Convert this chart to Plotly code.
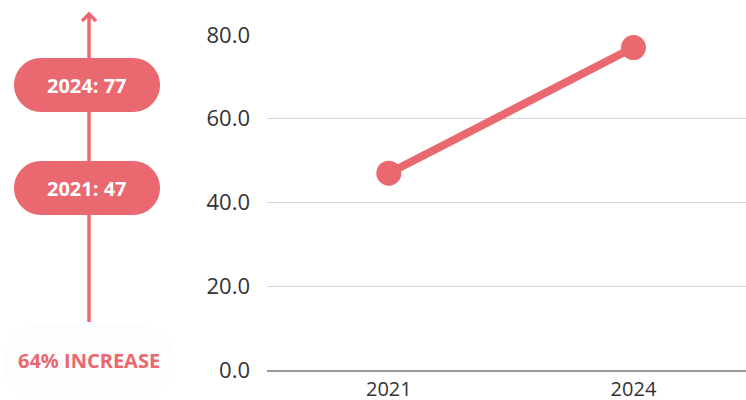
import plotly.graph_objects as go

years = ["2021", "2024"]
values = [47, 77]
y_ticks = [0, 20, 40, 60, 80]
increase_label = "64% INCREASE"

RED = "#EA6870"
W, H = 746, 400
FONT = "Open Sans"


def px(x):
    return x / W


def py(y):
    return 1 - y / H


def pill(cx, cy, w, h):
    # rounded-end box, built in pixels then mapped to paper coords
    r = h / 2
    x0, x1 = cx - w / 2 + r, cx + w / 2 - r
    y0, y1 = cy - r, cy + r
    k = 0.5523 * r
    pts = [
        ("M", [(x0, y0)]), ("L", [(x1, y0)]),
        ("C", [(x1 + k, y0), (x1 + r, cy - k), (x1 + r, cy)]),
        ("C", [(x1 + r, cy + k), (x1 + k, y1), (x1, y1)]),
        ("L", [(x0, y1)]),
        ("C", [(x0 - k, y1), (x0 - r, cy + k), (x0 - r, cy)]),
        ("C", [(x0 - r, cy - k), (x0 - k, y0), (x0, y0)]),
    ]
    out = []
    for cmd, ps in pts:
        out.append(cmd + " ".join(f"{px(a):.5f},{py(b):.5f}" for a, b in ps))
    return " ".join(out) + " Z"


fig = go.Figure()

fig.add_trace(go.Scatter(
    x=years, y=values,
    mode="lines+markers",
    line=dict(color=RED, width=8),
    marker=dict(color=RED, size=25),
    cliponaxis=False,
    showlegend=False,
))

shapes = []
ax = 89
shapes.append(dict(type="path", xref="paper", yref="paper", path=pill(89, 362, 172, 78),
                   fillcolor="#fdfdfd", line=dict(width=0), layer="below"))
shapes.append(dict(type="line", xref="paper", yref="paper",
                   x0=px(ax), x1=px(ax), y0=py(322), y1=py(15),
                   line=dict(color=RED, width=3.5)))
shapes.append(dict(type="path", xref="paper", yref="paper",
                   path=f"M{px(ax - 7)},{py(21)} L{px(ax)},{py(14)} L{px(ax + 7)},{py(21)}",
                   line=dict(color=RED, width=3.5)))

pill_y = {"2024": 85, "2021": 188}
annotations = []
for yr, v in zip(years, values):
    cy = pill_y[yr]
    shapes.append(dict(type="path", xref="paper", yref="paper", path=pill(87, cy, 146, 54),
                       fillcolor=RED, line=dict(width=0)))
    annotations.append(dict(xref="paper", yref="paper", x=px(87), y=py(cy),
                            xanchor="center", yanchor="middle",
                            text=f"<b>{yr}: {v}</b>", showarrow=False,
                            font=dict(family=FONT, size=20, color="white")))

annotations.append(dict(xref="paper", yref="paper", x=px(89), y=py(360),
                        xanchor="center", yanchor="middle",
                        text=f"<b>{increase_label}</b>", showarrow=False,
                        font=dict(family=FONT, size=20, color=RED)))

fig.update_layout(
    width=W, height=H,
    margin=dict(l=0, r=0, t=0, b=0),
    paper_bgcolor="white",
    plot_bgcolor="white",
    font=dict(family=FONT, color="#333333"),
    shapes=shapes,
    annotations=annotations,
    xaxis=dict(
        domain=[267 / W, 1],
        type="category",
        range=[-0.498, 1.46],
        showgrid=False,
        showline=True, linecolor="#999999", linewidth=1.5,
        ticks="", tickfont=dict(size=20, color="#333333"),
        automargin=False,
        fixedrange=True,
    ),
    yaxis=dict(
        domain=[30 / H, 365 / H],
        range=[0, 80],
        tickvals=y_ticks,
        tickformat=".1f",
        showgrid=True, gridcolor="#d6d6d6", gridwidth=1,
        zeroline=False,
        showline=False,
        ticks="", tickfont=dict(size=22, color="#333333"),
        ticklabelstandoff=16,
        automargin=False,
        fixedrange=True,
    ),
)

fig.write_html("out.html", config={"displayModeBar": False},
               post_script="document.body.style.margin='0';")
